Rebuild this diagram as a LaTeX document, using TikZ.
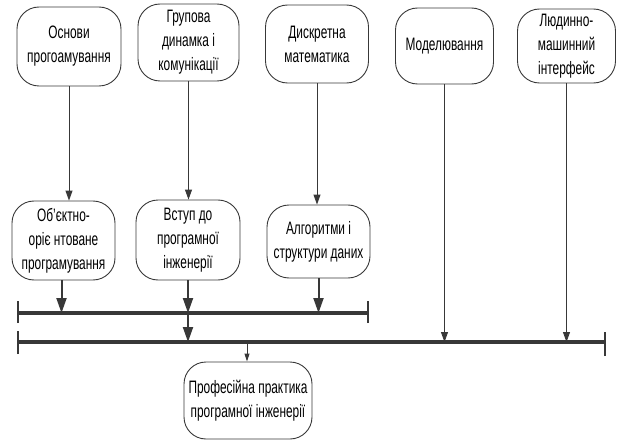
\documentclass[tikz,border=0pt]{standalone}
\usepackage{fontspec}
\setmainfont{Liberation Sans}[FakeStretch=0.66]
\usetikzlibrary{arrows.meta}
\definecolor{ln}{HTML}{383838}
\tikzset{
  box/.style={draw=ln, line width=0.9pt, rounded corners=22pt, align=center, inner sep=0pt,
    font=\fontsize{18}{24}\selectfont},
  thinarr/.style={draw=ln, line width=0.9pt, -{Triangle[length=10pt,width=7pt]}},
  smallarr/.style={draw=ln, line width=0.9pt, -{Triangle[length=8pt,width=5pt]}},
  thickarr/.style={draw=ln, line width=2pt, -{Triangle[length=15pt,width=10pt]}},
  bar/.style={draw=ln, line width=4pt},
  tick/.style={draw=ln, line width=2pt}
}
\begin{document}
\begin{tikzpicture}[x=1pt,y=-1pt]
\useasboundingbox (0,0) rectangle (621,441);
% top row
\node[box, minimum width=104pt, minimum height=79pt] (b1) at (69,46.5) {Основи\\прогоамування};
\node[box, minimum width=101pt, minimum height=77pt] (b2) at (188.5,42.5) {Групова\\динамка і\\комунікації};
\node[box, minimum width=103pt, minimum height=78pt] (b3) at (317,44) {Дискретна\\математика};
\node[box, minimum width=98pt, minimum height=76pt] (b4) at (444.5,46) {Моделювання};
\node[box, minimum width=98pt, minimum height=74pt] (b5) at (566.5,46) {Людинно-\\машинний\\інтерфейс};
% middle row
\node[box, minimum width=103pt, minimum height=79pt] (b6) at (63.5,240.5) {Об’єктно-\\оріє нтоване\\програмування};
\node[box, minimum width=104pt, minimum height=80pt] (b7) at (188,240) {Вступ до\\програмної\\інженерії};
\node[box, minimum width=103pt, minimum height=73pt] (b8) at (318.5,241.5) {Алгоритми і\\структури даних};
% bottom
\node[box, minimum width=128pt, minimum height=77pt] (b9) at (248,400.5) {Професійна практика\\програмної інженерії};
% bars
\coordinate (bar1L) at (18,313);
\coordinate (bar1R) at (368,313);
\coordinate (bar2L) at (18,342);
\coordinate (bar2R) at (605,342);
\draw[bar] (bar1L) -- (bar1R);
\draw[bar] (bar2L) -- (bar2R);
\draw[tick] ([yshift=-10pt]bar1L) -- ([yshift=12pt]bar1L);
\draw[tick] ([yshift=-10pt]bar1R) -- ([yshift=12pt]bar1R);
\draw[tick] ([yshift=-12pt]bar2L) -- ([yshift=11pt]bar2L);
\draw[tick] ([yshift=-14pt]bar2R) -- ([yshift=10pt]bar2R);
% top to middle
\draw[thinarr] (b1.south) -- (b1.south |- b6.north);
\draw[thinarr] (b2.south) -- (b2.south |- b7.north);
\draw[thinarr] (b3.south) -- (b3.south |- b8.north);
% middle to bar1
\draw[thickarr] ([xshift=-2pt]b6.south) -- ([xshift=-2pt]b6.south |- bar1L);
\draw[thickarr] (b7.south) -- (b7.south |- bar1L);
\draw[thickarr] (b8.south) -- (b8.south |- bar1L);
% bar1 to bar2
\draw[thickarr] (b7.south |- bar1L) -- (b7.south |- bar2L);
% right boxes to bar2
\draw[thinarr] (b4.south) -- (b4.south |- bar2L);
\draw[thinarr] (b5.south) -- (b5.south |- bar2L);
% bar2 to bottom
\draw[smallarr] ([xshift=-1pt]b9.north |- bar2L) -- ([xshift=-1pt]b9.north);
\end{tikzpicture}
\end{document}
